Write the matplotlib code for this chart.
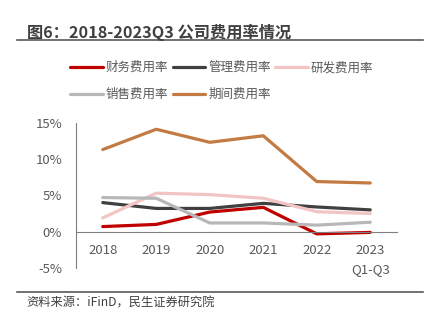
import numpy as np
import matplotlib.pyplot as plt

plt.rcParams['font.family'] = ['Noto Sans CJK SC', 'DejaVu Sans']

# data (%)
years = ['2018', '2019', '2020', '2021', '2022', '2023\nQ1-Q3']
finance = [0.7, 1.0, 2.7, 3.35, -0.3, -0.1]
admin = [4.0, 3.2, 3.2, 3.9, 3.4, 3.0]
rnd = [1.9, 5.3, 5.1, 4.6, 2.75, 2.5]
sales = [4.7, 4.6, 1.2, 1.2, 0.9, 1.3]
period = [11.3, 14.1, 12.3, 13.2, 6.9, 6.7]

names = ['财务费用率', '管理费用率', '研发费用率', '销售费用率', '期间费用率']
colors = ['#C00000', '#404040', '#F2C4C4', '#B8B8B8', '#C47A43']
series = [finance, admin, rnd, sales, period]

fig = plt.figure(figsize=(4.33, 3.24), dpi=100)
ax = fig.add_axes([76 / 433, 1 - 268 / 324, (397 - 76) / 433, (268 - 122.7) / 324])

x = np.arange(len(years))
lines = []
for vals, c, n in zip(series, colors, names):
    ln, = ax.plot(x, vals, color=c, lw=2.3, label=n, solid_capstyle='round')
    lines.append(ln)

ax.set_xlim(-0.5, 5.5)
ax.set_ylim(-5, 15)
ax.set_yticks([-5, 0, 5, 10, 15])
ax.set_yticklabels(['-5%', '0%', '5%', '10%', '15%'])
ax.set_xticks(x)
ax.set_xticklabels(years)
ax.tick_params(length=0, labelsize=9.5, colors='#595959')
ax.tick_params(axis='x', pad=9)
ax.tick_params(axis='y', pad=10)
ax.spines['top'].set_visible(False)
ax.spines['right'].set_visible(False)
ax.spines['left'].set_color('#7F7F7F')
ax.spines['bottom'].set_color('#7F7F7F')
ax.spines['bottom'].set_position(('data', 0))
for lbl in ax.get_xticklabels():
    lbl.set_linespacing(1.6)

# legend filled row by row: reorder for matplotlib's column-major layout
order = [0, 3, 1, 4, 2]
fig.legend([lines[i] for i in order], [names[i] for i in order],
           loc='upper left', bbox_to_anchor=(59 / 433, 1 - 50 / 324), ncol=3,
           frameon=False, fontsize=9, handlelength=2.6, handletextpad=0.25,
           columnspacing=0.35, labelspacing=1.1, labelcolor='#595959')

fig.text(27 / 433, 1 - 32 / 324, '图6：2018-2023Q3 公司费用率情况', fontsize=11.7,
         fontweight='bold', color='#404040', va='center')
fig.add_artist(plt.Line2D([17 / 433, 423 / 433], [1 - 39.5 / 324] * 2,
                          color='#595959', lw=1.2))
fig.add_artist(plt.Line2D([17 / 433, 423 / 433], [1 - 292 / 324] * 2,
                          color='#595959', lw=1.2))
fig.text(26 / 433, 1 - 297 / 324, '资料来源：iFinD，民生证券研究院', fontsize=8.8,
         color='#404040', va='top')

fig.savefig('out.png', dpi=100)
